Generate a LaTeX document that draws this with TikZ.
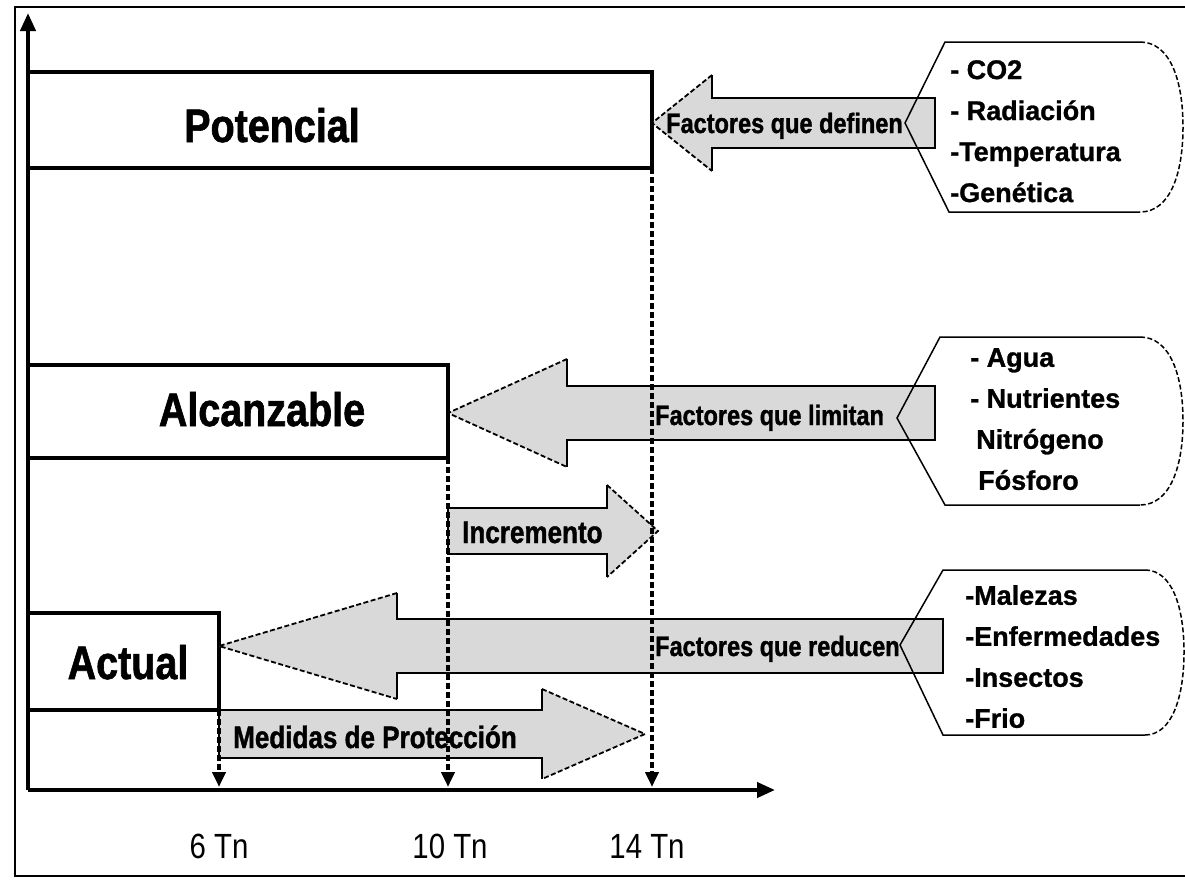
\documentclass[tikz,border=0pt]{standalone}
\usepackage{fontspec}
\setmainfont{Liberation Sans}[BoldFeatures={FakeBold=1}]
\newfontfamily\narrowsans{Liberation Sans}[FakeStretch=0.84, BoldFeatures={FakeBold=1.3}]
\usetikzlibrary{arrows.meta}

% block arrow: tail x, tip x, head base x, mid y, half shaft, half head
\newcommand{\blockarrow}[6]{%
  \fill[arrowfill] (#1,#4-#5) -- (#3,#4-#5) -- (#3,#4-#6) -- (#2,#4)
    -- (#3,#4+#6) -- (#3,#4+#5) -- (#1,#4+#5) -- cycle;
  \draw[arrowedge] (#3,#4-#6) -- (#3,#4-#5) -- (#1,#4-#5) -- (#1,#4+#5)
    -- (#3,#4+#5) -- (#3,#4+#6);
  \draw[headedge] (#3,#4-#6) -- (#2,#4) -- (#3,#4+#6);
}

\tikzset{
  levelbox/.style={line width=4pt},
  axisline/.style={line width=4pt, -{Triangle[length=18pt,width=15pt]}},
  tickline/.style={line width=4.5pt, dash pattern=on 6pt off 3pt,
    -{Triangle[length=15pt,width=13pt]}},
  arrowfill/.style={fill=black!15},
  arrowedge/.style={line width=1.8pt},
  headedge/.style={line width=1.8pt, dash pattern=on 5pt off 2.5pt},
  factorshape/.style={line width=1.5pt},
  curveedge/.style={line width=1.5pt, dash pattern=on 5pt off 2.5pt},
  leveltext/.style={font=\narrowsans\bfseries\fontsize{47}{47}\selectfont,
    inner sep=0pt, anchor=base},
  arrowtext/.style={font=\narrowsans\bfseries\fontsize{28}{28}\selectfont,
    inner sep=0pt, anchor=base west},
  gaintext/.style={font=\narrowsans\bfseries\fontsize{31}{31}\selectfont,
    inner sep=0pt, anchor=base west},
  listtext/.style={font=\bfseries\fontsize{27}{41}\selectfont,
    inner sep=0pt, align=left, anchor=north west},
  ticktext/.style={font=\narrowsans\fontsize{35}{35}\selectfont,
    inner sep=0pt, anchor=base},
}

\begin{document}
\begin{tikzpicture}[x=1pt,y=-1pt]
  \useasboundingbox (0,0) rectangle (1185,879);
  \draw[line width=2pt] (1185,7) -- (15,7) -- (15,876) -- (1185,876);

  \coordinate (origin) at (28,790);
  \coordinate (ytip) at (28,13);
  \coordinate (xtip) at (775,790);
  \coordinate (potcorner) at (652,168);
  \coordinate (alccorner) at (448,458);
  \coordinate (actcorner) at (219,710);

  % yield levels
  \draw[levelbox] (28,72) rectangle (potcorner);
  \draw[levelbox] (28,365) rectangle (alccorner);
  \draw[levelbox] (28,613) rectangle (actcorner);
  \node[leveltext] (potencial) at (272,142) {Potencial};
  \node[leveltext] (alcanzable) at (262,426) {Alcanzable};
  \node[leveltext] (actual) at (128,679) {Actual};

  % block arrows
  \blockarrow{935}{652}{712}{123}{25}{48}
  \blockarrow{935}{448}{567}{413}{27}{54}
  \blockarrow{448}{658}{607}{531}{23}{46}
  \blockarrow{943}{219}{397}{646}{27}{53}
  \blockarrow{219}{645}{542}{734}{24}{45}

  % axes and ticks
  \draw[axisline] (origin) -- (ytip);
  \draw[axisline] (origin) -- (xtip);
  \draw[tickline] (potcorner) -- ([yshift=3pt]potcorner |- origin);
  \draw[tickline] (alccorner) -- ([yshift=3pt]alccorner |- origin);
  \draw[tickline] (actcorner) -- ([yshift=3pt]actcorner |- origin);
  \node[ticktext] (t6) at (219,858) {6 Tn};
  \node[ticktext] (t10) at (450,858) {10 Tn};
  \node[ticktext] (t14) at (647,858) {14 Tn};

  % arrow labels
  \node[arrowtext] (definen) at (666,133) {Factores que definen};
  \node[arrowtext] (limitan) at (655,425) {Factores que limitan};
  \node[arrowtext] (reducen) at (655,656) {Factores que reducen};
  \node[gaintext] (incremento) at (462,543) {Incremento};
  \node[gaintext] (medidas) at (233,748) {Medidas de Protección};

  % factor groups
  \draw[factorshape] (1140,42) -- (945,42) -- (905,123) -- (949,212) -- (1140,212);
  \draw[curveedge] (1140,42) .. controls (1170,42) and (1183,80) .. (1183,127)
    .. controls (1183,174) and (1170,212) .. (1140,212);
  \draw[factorshape] (1140,337) -- (940,337) -- (897,418) -- (945,505) -- (1140,505);
  \draw[curveedge] (1140,337) .. controls (1170,337) and (1183,375) .. (1183,421)
    .. controls (1183,467) and (1170,505) .. (1140,505);
  \draw[factorshape] (1145,570) -- (943,570) -- (900,645) -- (943,735) -- (1145,735);
  \draw[curveedge] (1145,570) .. controls (1172,570) and (1184,607) .. (1184,652)
    .. controls (1184,697) and (1172,735) .. (1145,735);
  \node[listtext] (defin) at (950,60) {- CO2\\- Radiación\\-Temperatura\\-Genética};
  \node[listtext] (limit) at (970,348) {- Agua\\- Nutrientes\\\hspace*{6pt}Nitrógeno\\\hspace*{8pt}Fósforo};
  \node[listtext] (reduc) at (965,585) {-Malezas\\-Enfermedades\\-Insectos\\-Frio};
\end{tikzpicture}
\end{document}
